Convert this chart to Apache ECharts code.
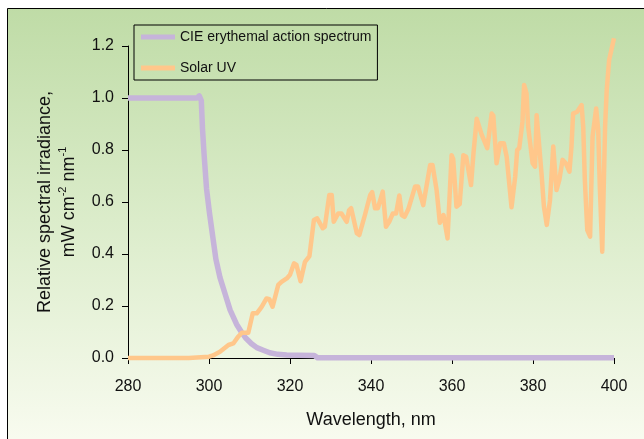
<!DOCTYPE html>
<html>
<head>
<meta charset="utf-8">
<script src="https://cdn.jsdelivr.net/npm/echarts@6/dist/echarts.min.js"></script>
<style>
html,body{margin:0;padding:0;background:#ffffff;}
#chart{width:644px;height:439px;}
</style>
</head>
<body>
<div id="chart"></div>
<script>
const seriesNames = ['CIE erythemal action spectrum', 'Solar UV'];
const xTickLabels = ['280','300','320','340','360','380','400'];
const yTickLabels = ['0.0','0.2','0.4','0.6','0.8','1.0','1.2'];

const cieWavelength = [280,290,297,297.6,298.1,298.4,298.8,299.4,300.1,300.9,301.7,302.7,304,305.2,306.8,308,309,310.5,311.8,313.4,315,317,319.2,322,326,326.8,330,400];
const cieValue      = [1,1,1.0,1.008,0.99,0.88,0.78,0.65,0.56,0.47,0.38,0.31,0.245,0.185,0.13,0.1,0.078,0.055,0.04,0.03,0.02,0.014,0.012,0.011,0.01,0.001,0.001,0.001];

const uvWavelength = [280,285,290,295,298,300,301,302.7,304.8,306,307.2,308.1,309.7,310.8,311.8,313,314.2,314.9,315.7,317.1,317.9,319.2,320,321,321.6,322.6,323.7,324.8,325.9,326.7,328.1,328.6,329.7,330.3,330.8,331.9,332.7,334,334.6,335.1,336.5,337.1,338.5,339.8,340.3,341,341.7,342.9,343.7,344.5,345.4,346.2,347,347.6,348.3,349.2,350.9,351.6,352.9,354.6,355.2,356.2,357,357.9,358.9,359.9,360.3,361.1,361.9,362.8,363.5,364.7,365.3,366.1,366.5,367.3,368.7,369,369.8,370.2,371,371.9,372.8,373.5,374.7,375,375.6,376.1,376.6,377.4,377.8,378.4,378.8,379.9,380.5,380.9,381.3,382.1,382.7,383.4,383.8,384.2,385,385.4,385.8,386.5,387.3,388.1,389,389.5,389.9,390.9,392,392.4,392.8,393.4,394.1,394.7,395.6,396.1,396.5,397.1,397.3,397.8,398.2,398.8,400];
const uvValue      = [0,0,0,0,0.003,0.005,0.01,0.024,0.05,0.056,0.082,0.097,0.097,0.172,0.172,0.197,0.229,0.226,0.197,0.281,0.293,0.306,0.32,0.364,0.358,0.295,0.37,0.392,0.531,0.537,0.499,0.505,0.627,0.627,0.524,0.556,0.556,0.524,0.569,0.576,0.48,0.473,0.55,0.627,0.638,0.576,0.576,0.64,0.505,0.524,0.556,0.556,0.625,0.55,0.543,0.572,0.66,0.66,0.588,0.742,0.742,0.646,0.52,0.55,0.46,0.78,0.765,0.582,0.592,0.78,0.774,0.665,0.787,0.92,0.9,0.86,0.807,0.807,0.94,0.932,0.749,0.826,0.826,0.774,0.58,0.576,0.697,0.8,0.807,0.909,1.05,1.018,0.89,0.749,0.736,0.934,0.934,0.71,0.582,0.512,0.505,0.608,0.813,0.807,0.646,0.685,0.762,0.749,0.717,0.813,0.94,0.947,0.973,0.89,0.685,0.492,0.467,0.851,0.96,0.877,0.659,0.409,0.409,0.89,1.03,1.146,1.23];

const zip = (xs, ys) => xs.map((x, i) => [x, ys[i]]);

const chart = echarts.init(document.getElementById('chart'), null, {renderer: 'canvas'});
const font = 'Liberation Sans, Arial, Helvetica, sans-serif';

chart.setOption({
  animation: false,
  color: ['#c6b4da', '#ffc78b'],
  textStyle: {fontFamily: font},
  graphic: [{
    type: 'rect',
    z: -100,
    silent: true,
    shape: {x: 7.5, y: 8.5, width: 700, height: 500},
    style: {
      fill: new echarts.graphic.LinearGradient(0, 0, 0, 439, [
        {offset: 0, color: '#bedba5'},
        {offset: 0.5, color: '#dbecca'},
        {offset: 1, color: '#f8fbef'}
      ], true),
      stroke: '#000',
      lineWidth: 1
    }
  }],
  grid: {left: 128, right: 30, top: 46, bottom: 81, containLabel: false},
  legend: {
    data: seriesNames.map(n => ({name: n, icon: 'rect'})),
    orient: 'vertical',
    left: 134, top: 25,
    padding: [5, 6, 5, 7],
    itemGap: 17,
    itemWidth: 34, itemHeight: 5,
    borderColor: '#000', borderWidth: 1,
    textStyle: {fontSize: 14, color: '#111', fontFamily: font}
  },
  xAxis: {
    type: 'value', min: 280, max: 400, interval: 20,
    name: 'Wavelength, nm', nameLocation: 'middle', nameGap: 53,
    nameTextStyle: {fontSize: 18, color: '#111', fontFamily: font},
    axisLine: {lineStyle: {color: '#000', width: 1}},
    axisTick: {show: true, length: 6, lineStyle: {color: '#000'}},
    axisLabel: {fontSize: 16, color: '#111', margin: 21, fontFamily: font,
      formatter: v => xTickLabels[Math.round((v - 280) / 20)]},
    splitLine: {show: false}
  },
  yAxis: {
    type: 'value', min: 0, max: 1.2, interval: 0.2,
    name: '{n|Relative spectral irradiance,}\n{n|mW cm}{sup|-2}{n| nm}{sup|-1}',
    nameLocation: 'middle', nameGap: 47, nameRotate: 90,
    nameTextStyle: {fontSize: 18, color: '#111', fontFamily: font,
      rich: {
        n: {fontSize: 18, lineHeight: 24, color: '#111', fontFamily: font},
        sup: {fontSize: 11, lineHeight: 12, verticalAlign: 'top', color: '#111', fontFamily: font}
      }},
    axisLine: {show: true, lineStyle: {color: '#000', width: 1}},
    axisTick: {show: true, length: 6, lineStyle: {color: '#000'}},
    axisLabel: {fontSize: 16, color: '#111', margin: 14, fontFamily: font,
      formatter: v => yTickLabels[Math.round(v / 0.2)]},
    splitLine: {show: false}
  },
  series: [
    {name: seriesNames[0], type: 'line', data: zip(cieWavelength, cieValue),
     showSymbol: false, symbol: 'none', clip: false,
     lineStyle: {width: 5.5, color: '#c6b4da', join: 'round'}},
    {name: seriesNames[1], type: 'line', data: zip(uvWavelength, uvValue),
     showSymbol: false, symbol: 'none', clip: false,
     lineStyle: {width: 4.5, color: '#ffc78b', join: 'round'}}
  ]
});
</script>
</body>
</html>
